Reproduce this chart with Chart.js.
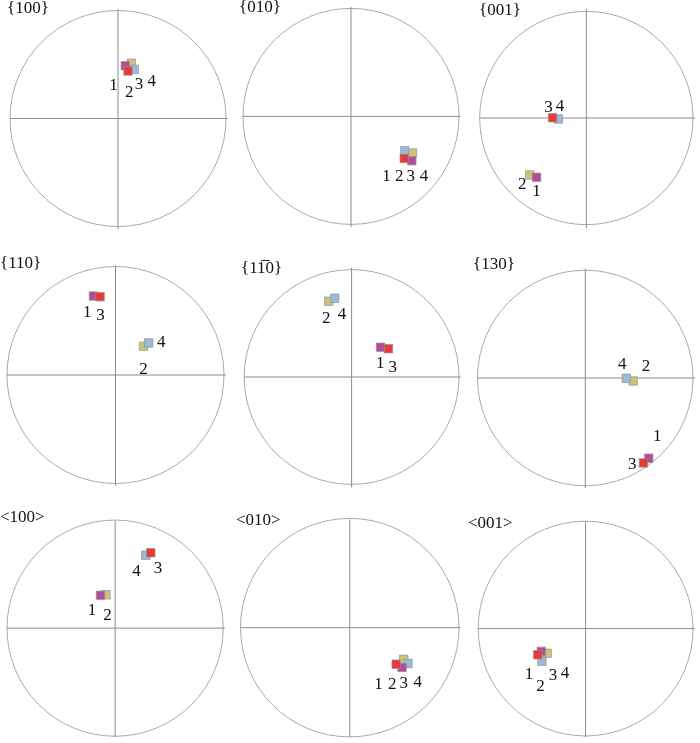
<!DOCTYPE html>
<html>
<head>
<meta charset="utf-8">
<script src="https://cdn.jsdelivr.net/npm/chart.js@4/dist/chart.umd.min.js"></script>
<style>
  body { margin: 0; background: #fff; }
  #wrap { position: relative; width: 700px; height: 743px; }
  #wrap canvas { position: absolute; }
</style>
</head>
<body>
<div id="wrap"></div>
<script>
// pole figure titles, one per panel (row by row)
const panelTitles = ['{100}', '{010}', '{001}', '{110}', '{11\u03050}', '{130}', '<100>', '<010>', '<001>'];
const grainNames = ['1', '2', '3', '4'];

// pole positions for each grain, one value per panel (unit circle, x right, y up)
const grain1X = [0.068, 0.563, -0.467, -0.203, 0.270, 0.589, -0.135, 0.479, -0.413];
const grain1Y = [0.482, -0.405, -0.543, 0.721, 0.272, -0.735, 0.304, -0.367, -0.212];
const grain2X = [0.123, 0.570, -0.531, 0.258, -0.212, 0.445, -0.084, 0.494, -0.358];
const grain2Y = [0.504, -0.335, -0.521, 0.262, 0.693, -0.027, 0.310, -0.292, -0.230];
const grain3X = [0.093, 0.493, -0.317, -0.142, 0.343, 0.540, 0.330, 0.425, -0.446];
const grain3Y = [0.434, -0.384, 0.003, 0.715, 0.259, -0.778, 0.699, -0.337, -0.243];
const grain4X = [0.151, 0.497, -0.263, 0.306, -0.157, 0.381, 0.284, 0.533, -0.407];
const grain4Y = [0.449, -0.314, -0.009, 0.292, 0.720, -0.003, 0.677, -0.331, -0.303];

// where the grain numbers sit, same units
const tag1X = [-0.041, 0.329, -0.467, -0.260, 0.267, 0.668, -0.214, 0.263, -0.528];
const tag1Y = [0.297, -0.552, -0.674, 0.569, 0.125, -0.538, 0.161, -0.523, -0.431];
const tag2X = [0.105, 0.447, -0.601, 0.258, -0.236, 0.564, -0.071, 0.389, -0.419];
const tag2Y = [0.239, -0.552, -0.607, 0.048, 0.531, 0.101, 0.121, -0.523, -0.537];
const tag3X = [0.194, 0.554, -0.354, -0.139, 0.382, 0.436, 0.397, 0.494, -0.303];
const tag3Y = [0.306, -0.552, 0.098, 0.542, 0.089, -0.790, 0.556, -0.517, -0.440];
const tag4X = [0.312, 0.676, -0.247, 0.422, -0.090, 0.344, 0.199, 0.623, -0.191];
const tag4Y = [0.342, -0.552, 0.103, 0.299, 0.576, 0.119, 0.526, -0.508, -0.416];

// page layout: cell boxes, circle centre/radius and title spot (page pixels)
const colX = [0, 233, 466], colW = [233, 233, 234];
const rowY = [0, 245, 495], rowH = [245, 250, 248];
const circles = [
  [119.5, 118.5, 109.5], [352.5, 116.3, 109.5], [589, 118, 109.3],
  [114.5, 375, 109.5], [353.5, 377, 109.3], [586.7, 378, 109.2],
  [113.5, 630, 109.7], [351.5, 630.3, 111], [588, 631, 109.8]
];
const titleAt = [
  [7, 9], [239, 8], [479, 11],
  [0, 264], [241, 269], [473, 265],
  [0, 518], [236, 521], [468, 524]
];

const grainX = [grain1X, grain2X, grain3X, grain4X];
const grainY = [grain1Y, grain2Y, grain3Y, grain4Y];
const tagX = [tag1X, tag2X, tag3X, tag4X];
const tagY = [tag1Y, tag2Y, tag3Y, tag4Y];
const fills = ['#b24c9b', '#c9c37c', '#e5393a', '#9bbad9'];
const drawOrder = [1, 3, 0, 2]; // lower = drawn on top

const serif = '"Liberation Serif", "Times New Roman", serif';

const poleFrame = {
  id: 'poleFrame',
  beforeDatasetsDraw(chart) {
    const { ctx, scales: { x, y } } = chart;
    const cx = x.getPixelForValue(0), cy = y.getPixelForValue(0);
    const r = x.getPixelForValue(1) - cx;
    ctx.save();
    ctx.lineWidth = 1;
    ctx.strokeStyle = '#a9a9a9';
    ctx.beginPath();
    ctx.arc(cx, cy, r, 0, Math.PI * 2);
    ctx.stroke();
    ctx.strokeStyle = '#8c8c8c';
    ctx.beginPath();
    ctx.moveTo(x.getPixelForValue(-1), cy);
    ctx.lineTo(x.getPixelForValue(1.015), cy);
    ctx.moveTo(cx, y.getPixelForValue(1));
    ctx.lineTo(cx, y.getPixelForValue(-1.01));
    ctx.stroke();
    ctx.restore();
  },
  afterDatasetsDraw(chart, args, opts) {
    const { ctx, scales: { x, y } } = chart;
    ctx.save();
    ctx.fillStyle = '#111';
    ctx.font = '17px ' + serif;
    ctx.textAlign = 'center';
    ctx.textBaseline = 'middle';
    grainNames.forEach((name, g) => {
      ctx.fillText(name, x.getPixelForValue(tagX[g][opts.panel]), y.getPixelForValue(tagY[g][opts.panel]));
    });
    ctx.textAlign = 'left';
    ctx.font = '17px ' + serif;
    ctx.fillText(panelTitles[opts.panel], opts.tx, opts.ty);
    ctx.restore();
  }
};

const wrap = document.getElementById('wrap');

panelTitles.forEach((title, p) => {
  const col = p % 3, row = Math.floor(p / 3);
  const left = colX[col], top = rowY[row], w = colW[col], h = rowH[row];
  const [cx, cy, r] = circles[p];

  const canvas = document.createElement('canvas');
  canvas.width = w;
  canvas.height = h;
  canvas.style.left = left + 'px';
  canvas.style.top = top + 'px';
  wrap.appendChild(canvas);

  new Chart(canvas, {
    type: 'scatter',
    data: {
      datasets: grainNames.map((name, g) => ({
        label: name,
        data: [{ x: grainX[g][p], y: grainY[g][p] }],
        pointStyle: 'rect',
        pointRadius: 6,
        backgroundColor: fills[g],
        borderColor: 'rgba(150,150,150,0.7)',
        borderWidth: 1,
        order: drawOrder[g]
      }))
    },
    options: {
      responsive: false,
      animation: false,
      layout: {
        padding: {
          left: cx - r - left,
          top: cy - r - top,
          right: left + w - (cx + r),
          bottom: top + h - (cy + r)
        }
      },
      scales: {
        x: { type: 'linear', min: -1, max: 1, display: false },
        y: { type: 'linear', min: -1, max: 1, display: false }
      },
      plugins: {
        legend: { display: false },
        tooltip: { enabled: false },
        poleFrame: { panel: p, tx: titleAt[p][0] - left, ty: titleAt[p][1] - top }
      }
    },
    plugins: [poleFrame]
  });
});
</script>
</body>
</html>
